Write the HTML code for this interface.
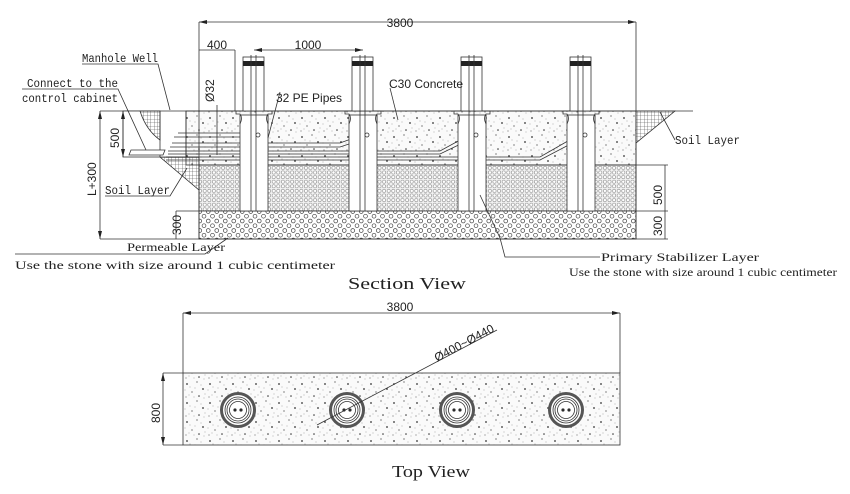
<!DOCTYPE html>
<html><head><meta charset="utf-8"><style>
html,body{margin:0;padding:0;background:#fff;width:850px;height:494px;overflow:hidden}
svg{display:block}
.m{font-family:"Liberation Mono",monospace;fill:#222}
.s{font-family:"Liberation Sans",sans-serif;fill:#222}
.r{font-family:"Liberation Serif",serif;fill:#222}
</style></head><body>
<svg width="850" height="494" viewBox="0 0 850 494" xmlns="http://www.w3.org/2000/svg">
<defs>
<pattern id="conc" width="23" height="19" patternUnits="userSpaceOnUse">
<rect width="23" height="19" fill="#fafafa"/>
<g fill="#333"><circle cx="3" cy="4" r="0.9"/><circle cx="13" cy="2" r="0.6"/><circle cx="19" cy="9" r="0.9"/><circle cx="8" cy="12" r="0.6"/><circle cx="15" cy="16" r="0.8"/><circle cx="2" cy="17" r="0.5"/></g>
<g fill="#999"><circle cx="6" cy="7" r="0.5"/><circle cx="17" cy="5" r="0.5"/><circle cx="11" cy="8" r="0.5"/><circle cx="21" cy="14" r="0.5"/><circle cx="5" cy="15" r="0.5"/><circle cx="10" cy="17" r="0.5"/><circle cx="20" cy="18" r="0.5"/><circle cx="1" cy="10" r="0.5"/></g>
</pattern>
<pattern id="small" width="4.6" height="4.6" patternUnits="userSpaceOnUse">
<rect width="4.6" height="4.6" fill="#f2f2f2"/><circle cx="2.3" cy="2.3" r="1.6" fill="#fff" stroke="#777" stroke-width="0.5"/>
</pattern>
<pattern id="big" width="8.5" height="9.5" patternUnits="userSpaceOnUse">
<rect width="8.5" height="9.5" fill="#fff"/><circle cx="4.25" cy="2.5" r="1.9" fill="none" stroke="#444" stroke-width="0.7"/><circle cx="0" cy="7.2" r="1.9" fill="none" stroke="#444" stroke-width="0.7"/><circle cx="8.5" cy="7.2" r="1.9" fill="none" stroke="#444" stroke-width="0.7"/>
</pattern>
<pattern id="grid" width="3.5" height="3.5" patternUnits="userSpaceOnUse">
<path d="M0 0H3.5M0 0V3.5" stroke="#444" stroke-width="0.6"/>
</pattern>
<marker id="ar" markerWidth="8" markerHeight="6" refX="8" refY="3" orient="auto-start-reverse" markerUnits="userSpaceOnUse"><path d="M0 1L8 3L0 5Z" fill="#222"/></marker>
</defs>

<g stroke="#333" stroke-width="0.8" fill="none">
<rect x="186" y="111" width="450" height="54" fill="url(#conc)"/>
<rect x="199" y="165" width="437" height="46" fill="url(#small)"/>
<rect x="199" y="211" width="437" height="28" fill="url(#big)"/>
<line x1="100" y1="111" x2="693" y2="111"/>
<line x1="100" y1="239" x2="636" y2="239"/>
<line x1="199" y1="165" x2="636" y2="165"/>
<line x1="636" y1="22" x2="636" y2="239"/>
<rect x="123" y="111" width="37" height="46" fill="#fff"/>
<path d="M140 111 H160 V140 Q146 130 140 111Z" fill="url(#grid)"/>
<path d="M160 157 H199 V190Z" fill="url(#grid)"/>
<line x1="186" y1="111" x2="186" y2="157"/>
<path d="M131 150 L165 150 L163 155 L129 155Z" fill="#fff"/>
<path d="M636 111 H675 L636 143Z" fill="url(#grid)"/>
<path d="M178 133 H258 M174 137 H258"/>
<path d="M172 143 H340 L362 135 M170 147 H340 L364 139"/>
<path d="M168 151 H440 L471 134 M168 154 H440 L473 138"/>
<path d="M166 157 H540 L580 134 M166 160 H540 L582 138"/>
<g id="b">
<rect x="240" y="115" width="28" height="96" fill="#fff"/>
<path d="M236 111 H272 V114 H268 Q265 118 268 124 V115 M236 111 V114 H240 Q243 118 240 124"/>
<rect x="243" y="57" width="21" height="54" fill="#fff"/>
<rect x="243" y="61" width="21" height="5" fill="#222" stroke="none"/>
<line x1="251" y1="55" x2="251" y2="211"/>
<line x1="256" y1="55" x2="256" y2="211"/>
<circle cx="258" cy="135" r="2" fill="#fff"/>
</g>
<use href="#b" x="109"/><use href="#b" x="218"/><use href="#b" x="327"/>
<line x1="199" y1="22" x2="636" y2="22" marker-start="url(#ar)" marker-end="url(#ar)"/>
<line x1="199" y1="22" x2="199" y2="239"/>
<line x1="199" y1="50" x2="235" y2="50"/>
<line x1="235" y1="50" x2="235" y2="111"/>
<line x1="254" y1="50" x2="363" y2="50" marker-start="url(#ar)" marker-end="url(#ar)"/>
<line x1="217" y1="105" x2="217" y2="155"/>
<line x1="100" y1="111" x2="100" y2="239" marker-start="url(#ar)" marker-end="url(#ar)"/>
<line x1="123" y1="111" x2="123" y2="157" marker-start="url(#ar)" marker-end="url(#ar)"/>
<line x1="176" y1="211" x2="176" y2="239"/>
<line x1="176" y1="211" x2="199" y2="211"/>
<line x1="636" y1="165" x2="668" y2="165"/>
<line x1="636" y1="211" x2="668" y2="211"/>
<line x1="636" y1="239" x2="668" y2="239"/>
<line x1="665" y1="165" x2="665" y2="239"/>
<path d="M82 64 H158 L170 110"/>
<path d="M22 89 H118 L146 150"/>
<path d="M105 196 H170 L187 168"/>
<path d="M660 112 L675 140"/>
<path d="M15 254 H205 L228 238"/>
<path d="M600 257 H505 L500 238 L480 195"/>
<path d="M280 92 L268 138"/>
<path d="M390 88 L398 120"/>
</g>

<g class="s">
<text x="400" y="27" font-size="12" text-anchor="middle">3800</text>
<text x="217" y="49" font-size="12" text-anchor="middle">400</text>
<text x="308" y="49" font-size="12" text-anchor="middle">1000</text>
<text x="276" y="102" font-size="12">32 PE Pipes</text>
<text x="389" y="88" font-size="12">C30 Concrete</text>
<text transform="translate(214 102) rotate(-90)" font-size="12">Ø32</text>
<text transform="translate(96 196) rotate(-90)" font-size="12">L+300</text>
<text transform="translate(119 148) rotate(-90)" font-size="12">500</text>
<text transform="translate(181 235) rotate(-90)" font-size="12">300</text>
<text transform="translate(662 205) rotate(-90)" font-size="12">500</text>
<text transform="translate(662 236) rotate(-90)" font-size="12">300</text>
</g>
<g class="m" font-size="12">
<text x="82" y="62" textLength="76" lengthAdjust="spacingAndGlyphs">Manhole Well</text>
<text x="27" y="87" textLength="91" lengthAdjust="spacingAndGlyphs">Connect to the</text>
<text x="22" y="102" textLength="96" lengthAdjust="spacingAndGlyphs">control cabinet</text>
<text x="105" y="194" textLength="65" lengthAdjust="spacingAndGlyphs">Soil Layer</text>
<text x="675" y="144" textLength="65" lengthAdjust="spacingAndGlyphs">Soil Layer</text>
</g>
<g class="r" font-size="12">
<text x="127" y="251" textLength="98" lengthAdjust="spacingAndGlyphs">Permeable Layer</text>
<text x="15" y="269" textLength="320" lengthAdjust="spacingAndGlyphs">Use the stone with size around 1 cubic centimeter</text>
<text x="601" y="261" textLength="158" lengthAdjust="spacingAndGlyphs">Primary Stabilizer Layer</text>
<text x="569" y="276" textLength="268" lengthAdjust="spacingAndGlyphs">Use the stone with size around 1 cubic centimeter</text>
<text x="348" y="289" font-size="17" textLength="118" lengthAdjust="spacingAndGlyphs">Section View</text>
<text x="392" y="477" font-size="17" textLength="78" lengthAdjust="spacingAndGlyphs">Top View</text>
</g>

<g stroke="#333" stroke-width="0.8" fill="none">
<rect x="183" y="373" width="437" height="72" fill="url(#conc)"/>
<line x1="163" y1="373" x2="183" y2="373"/>
<line x1="163" y1="445" x2="183" y2="445"/>
<line x1="163" y1="373" x2="163" y2="445" marker-start="url(#ar)" marker-end="url(#ar)"/>
<line x1="183" y1="313" x2="620" y2="313" marker-start="url(#ar)" marker-end="url(#ar)"/>
<line x1="183" y1="313" x2="183" y2="373"/>
<line x1="620" y1="313" x2="620" y2="373"/>
<g id="c">
<circle cx="238" cy="410" r="16.5" stroke="#555" stroke-width="3" fill="#fff"/>
<circle cx="238" cy="410" r="13"/>
<circle cx="238" cy="410" r="11"/>
<circle cx="238" cy="410" r="8.5"/>
<circle cx="235" cy="410" r="1.2" fill="#222"/><circle cx="241" cy="410" r="1.2" fill="#222"/>
</g>
<use href="#c" x="109"/><use href="#c" x="219"/><use href="#c" x="328"/>
<line x1="317" y1="425" x2="497" y2="330"/>
</g>
<g class="s">
<text x="400" y="311" font-size="12" text-anchor="middle">3800</text>
<text transform="translate(160 423) rotate(-90)" font-size="12">800</text>
<text transform="translate(437 362) rotate(-28)" font-size="12">Ø400~Ø440</text>
</g>
</svg>
</body></html>
